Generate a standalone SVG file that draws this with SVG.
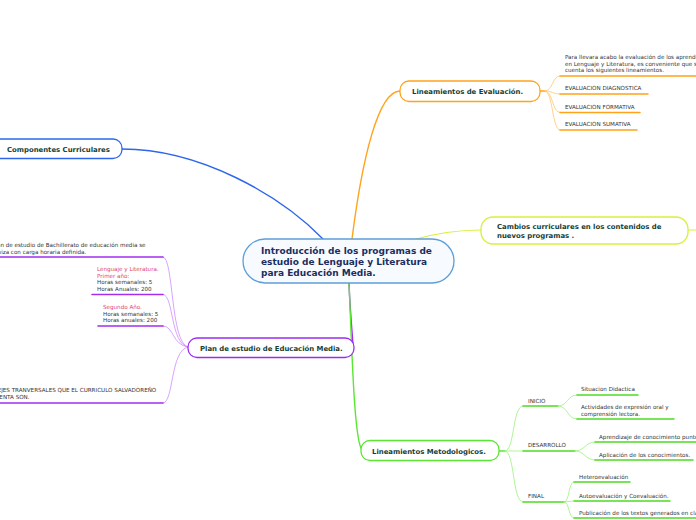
<svg xmlns="http://www.w3.org/2000/svg" width="696" height="520" viewBox="0 0 696 520">
<style>
.node{font-family:"DejaVu Sans",Verdana,sans-serif;font-weight:bold;font-size:6.9px;fill:#163e33}
.main{font-family:"DejaVu Sans",Verdana,sans-serif;font-weight:bold;font-size:9px;fill:#1c2e5e}
.leaf{font-family:"DejaVu Sans",Verdana,sans-serif;font-size:5.6px;fill:#333}
.red{fill:#e0436a}
.c{fill:none;stroke-linecap:round}
.or{stroke:#ffa31a;stroke-width:1.4}
.orl{stroke:#ffc66b;stroke-width:0.8}
.oru{stroke:#ffa31a;stroke-width:1.5}
.pu{stroke:#9d2cf0;stroke-width:1.4}
.pul{stroke:#cf8cff;stroke-width:0.8}
.puu{stroke:#a22ef0;stroke-width:1.6}
.gr{stroke:#5ae632;stroke-width:1.4}
.grl{stroke:#9af27c;stroke-width:0.8}
.gru{stroke:#4ddc20;stroke-width:1.5}
.bl{stroke:#2d66ec;stroke-width:1.4}
.ye{stroke:#d9ef3c;stroke-width:1.2}
</style>
<rect width="696" height="520" fill="#ffffff"/>
<g id="connectors">
<path class="c bl" d="M122,149 C200,149 280,195 323,239"/>
<path class="c or" d="M352,239 C362,160 378,91 400,91"/>
<path class="c ye" d="M412,240 C440,232 460,230 481,230"/>
<path class="c ye" d="M688,230 L696,230"/>
<path class="c pu" d="M349,283 C350,310 352,330 353,345"/>
<path class="c gr" d="M349,283 C352,350 354,440 362,450"/>
<!-- evaluation fan -->
<path class="c or" d="M540,91 L545,91"/>
<path class="c orl" d="M545,91 C553,91 552,76 560,76"/>
<path class="c orl" d="M545,91 C553,91 552,94 560,94"/>
<path class="c orl" d="M545,91 C553,91 552,112.5 560,112.5"/>
<path class="c orl" d="M545,91 C553,91 552,130 560,130"/>
<line class="c oru" x1="560" y1="76" x2="696" y2="76"/>
<line class="c oru" x1="560" y1="94" x2="648" y2="94"/>
<line class="c oru" x1="560" y1="112.5" x2="640" y2="112.5"/>
<line class="c oru" x1="560" y1="130" x2="637" y2="130"/>
<!-- plan fan -->
<path class="c pul" d="M163,257 C174,257 170,343 188,347"/>
<path class="c pul" d="M163,294.5 C174,294.5 170,344 188,347"/>
<path class="c pul" d="M163,326 C174,326 172,345 188,347"/>
<path class="c pul" d="M163,403 C174,403 170,350 188,347"/>
<line class="c puu" x1="-2" y1="257" x2="163" y2="257"/>
<line class="c puu" x1="92" y1="294.5" x2="163" y2="294.5"/>
<line class="c puu" x1="98" y1="326" x2="163" y2="326"/>
<line class="c puu" x1="-2" y1="403" x2="163" y2="403"/>
<!-- metodologicos fan -->
<path class="c gr" d="M499,451 L505,451"/>
<path class="c grl" d="M505,451 C515,451 512,406 523,406"/>
<path class="c grl" d="M505,451 L523,451"/>
<path class="c grl" d="M505,451 C515,451 512,502 523,502"/>
<line class="c gru" x1="523" y1="406" x2="558" y2="406"/>
<line class="c gru" x1="523" y1="451" x2="575" y2="451"/>
<line class="c gru" x1="523" y1="502" x2="564" y2="502"/>
<path class="c grl" d="M558,406 C568,406 567,395 577,395"/>
<path class="c grl" d="M558,406 C568,406 567,419 577,419"/>
<line class="c gru" x1="577" y1="395" x2="638" y2="395"/>
<line class="c gru" x1="577" y1="419" x2="674" y2="419"/>
<path class="c grl" d="M575,451 C585,451 585,442 595,442"/>
<path class="c grl" d="M575,451 C585,451 585,460 595,460"/>
<line class="c gru" x1="595" y1="442" x2="696" y2="442"/>
<line class="c gru" x1="595" y1="460" x2="693" y2="460"/>
<path class="c grl" d="M564,502 C570,502 568,482 574,482"/>
<path class="c grl" d="M564,502 L574,501"/>
<path class="c grl" d="M564,502 C570,502 568,518 574,518"/>
<line class="c gru" x1="574" y1="482" x2="630" y2="482"/>
<line class="c gru" x1="574" y1="501" x2="670" y2="501"/>
<line class="c gru" x1="574" y1="518" x2="696" y2="518"/>
</g>
<g id="central">
<rect x="243" y="239" width="211" height="44" rx="22" fill="#f7fbff" stroke="#5c9fd8" stroke-width="1.3"/>
<text class="main" x="261" y="254">Introducción de los programas de</text>
<text class="main" x="261" y="265">estudio de Lenguaje y Literatura</text>
<text class="main" x="261" y="276">para Educación Media.</text>
</g>
<g id="componentes">
<rect x="-12" y="139" width="134" height="19.5" rx="9" fill="#fff" stroke="#2d66ec" stroke-width="1.3"/>
<text class="node" x="7" y="151.5">Componentes Curriculares</text>
</g>
<g id="evaluacion">
<rect x="400" y="81" width="140" height="20.5" rx="9" fill="#fff" stroke="#ffa31a" stroke-width="1.3"/>
<text class="node" x="412" y="94">Lineamientos de Evaluación.</text>
</g>
<g id="eval-leaves">
<text class="leaf" x="565" y="58.5">Para llevara acabo la evaluación de los aprendizajes</text>
<text class="leaf" x="565" y="65.5">en Lenguaje y Literatura, es conveniente que se tome en</text>
<text class="leaf" x="565" y="72">cuenta los siguientes lineamientos.</text>
<text class="leaf" x="565" y="90">EVALUACION DIAGNOSTICA</text>
<text class="leaf" x="565" y="108.5">EVALUACION FORMATIVA</text>
<text class="leaf" x="565" y="126">EVALUACION SUMATIVA</text>
</g>
<g id="cambios">
<rect x="481" y="217" width="207" height="27" rx="12" fill="#fff" stroke="#d9ef3c" stroke-width="1.3"/>
<text class="node" x="497" y="229">Cambios curriculares en los contenidos de</text>
<text class="node" x="497" y="237.5">nuevos programas .</text>
</g>
<g id="plan">
<rect x="188" y="338" width="166" height="19.5" rx="9" fill="#fff" stroke="#9d2cf0" stroke-width="1.3"/>
<text class="node" x="200" y="350.5">Plan de estudio de Educación Media.</text>
</g>
<g id="plan-leaves">
<text class="leaf" x="-15" y="247">El plan de estudio de Bachillerato de educación media se</text>
<text class="leaf" x="-15" y="253.5">organiza con carga horaria definida.</text>
<text class="leaf red" x="97" y="271">Lenguaje y Literatura.</text>
<text class="leaf red" x="97" y="277.7">Primer año:</text>
<text class="leaf" x="97" y="284.4">Horas semanales: 5</text>
<text class="leaf" x="97" y="291">Horas Anuales: 200</text>
<text class="leaf red" x="103" y="309">Segundo Año.</text>
<text class="leaf" x="103" y="315.5">Horas semanales: 5</text>
<text class="leaf" x="103" y="322">Horas anuales: 200</text>
<text class="leaf" x="-15" y="392">LOS EJES TRANVERSALES QUE EL CURRICULO SALVADOREÑO</text>
<text class="leaf" x="-15" y="399">PRESENTA SON.</text>
</g>
<g id="metodologicos">
<rect x="361" y="440.5" width="138" height="20" rx="9" fill="#fff" stroke="#5ae632" stroke-width="1.3"/>
<text class="node" x="372" y="453.5">Lineamientos Metodologicos.</text>
</g>
<g id="metod-leaves">
<text class="leaf" x="528" y="403">INICIO</text>
<text class="leaf" x="528" y="447">DESARROLLO</text>
<text class="leaf" x="528" y="497.5">FINAL</text>
<text class="leaf" x="581" y="391">Situacion Didactica</text>
<text class="leaf" x="581" y="409">Actividades de expresión oral y</text>
<text class="leaf" x="581" y="415.5">comprensión lectora.</text>
<text class="leaf" x="599" y="439">Aprendizaje de conocimiento puntual</text>
<text class="leaf" x="599" y="456.5">Aplicación de los conocimientos.</text>
<text class="leaf" x="579" y="479">Heteroevaluación</text>
<text class="leaf" x="579" y="497.5">Autoevaluación y Coevaluación.</text>
<text class="leaf" x="579" y="515">Publicación de los textos generados en clase.</text>
</g>
</svg>
